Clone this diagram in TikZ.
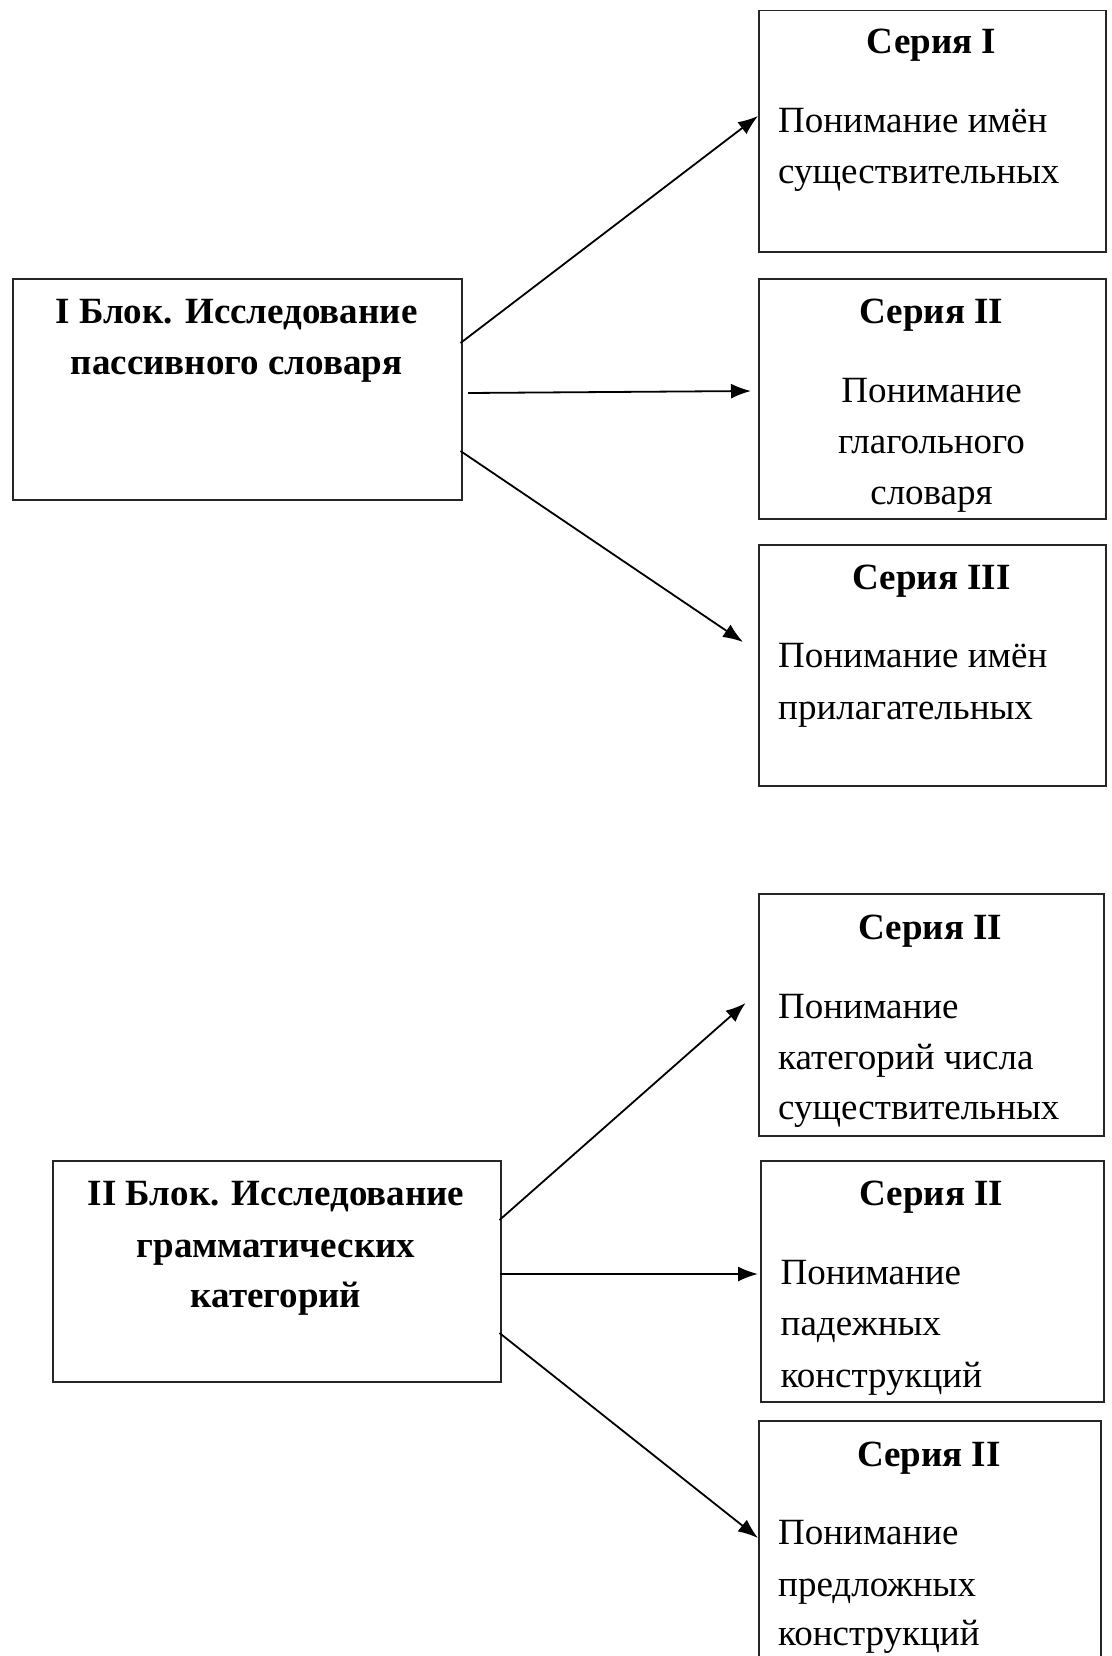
\documentclass[tikz,border=0pt]{standalone}
\usepackage{fontspec}
\setmainfont{Liberation Serif}
\usetikzlibrary{arrows.meta}
\begin{document}
\begin{tikzpicture}[x=1pt,y=-1pt,
  boxst/.style={draw=black!85, line width=1.5pt, anchor=north west, inner sep=0pt},
  ttl/.style={anchor=base, font=\fontsize{37}{45}\selectfont\bfseries, inner sep=0pt},
  bodyl/.style={anchor=base west, font=\fontsize{37}{45}\selectfont, inner sep=0pt},
  bodyc/.style={anchor=base, font=\fontsize{37}{45}\selectfont, inner sep=0pt},
  arr/.style={-{Latex[length=20pt,width=15pt]}, line width=1.8pt}]
\useasboundingbox (0,0) rectangle (1111,1656);
\fill[white] (0,0) rectangle (1111,1656);
% boxes
\node[boxst, minimum width=449pt, minimum height=221pt] (A) at (12,278) {};
\node[boxst, minimum width=347pt, minimum height=241pt] (S1) at (758,10) {};
\node[boxst, minimum width=347pt, minimum height=240pt] (S2) at (758,278) {};
\node[boxst, minimum width=347pt, minimum height=241pt] (S3) at (758,544) {};
\node[boxst, minimum width=448pt, minimum height=221pt] (B) at (52,1160) {};
\node[boxst, minimum width=345pt, minimum height=242pt] (S4) at (758,893) {};
\node[boxst, minimum width=343pt, minimum height=241pt] (S5) at (760,1160) {};
\node[boxst, minimum width=342pt, minimum height=250pt] (S6) at (758,1420) {};
% block texts
\node[ttl] (A1) at (236.5,323) {I Блок. Исследование};
\node[ttl] (A2) at (236.5,374) {пассивного словаря};
\node[ttl] (B1) at (276,1205) {II Блок. Исследование};
\node[ttl] (B2) at (276,1257) {грамматических};
\node[ttl] (B3) at (276,1307) {категорий};
% series texts
\node[ttl] (T1) at (931.5,54) {Серия I};
\node[bodyl] (P11) at (778,133) {Понимание имён};
\node[bodyl] (P12) at (778,184) {существительных};
\node[ttl] (T2) at (931.5,323) {Серия II};
\node[bodyc] (P21) at (931.5,402) {Понимание};
\node[bodyc] (P22) at (931.5,453) {глагольного};
\node[bodyc] (P23) at (931.5,504) {словаря};
\node[ttl] (T3) at (931.5,589) {Серия III};
\node[bodyl] (P31) at (778,667) {Понимание имён};
\node[bodyl] (P32) at (778,719) {прилагательных};
\node[ttl] (T4) at (930.5,939) {Серия II};
\node[bodyl] (P41) at (778,1018) {Понимание};
\node[bodyl] (P42) at (778,1069) {категорий числа};
\node[bodyl] (P43) at (778,1119) {существительных};
\node[ttl] (T5) at (931.5,1205) {Серия II};
\node[bodyl] (P51) at (780.5,1284) {Понимание};
\node[bodyl] (P52) at (780.5,1335) {падежных};
\node[bodyl] (P53) at (780.5,1387) {конструкций};
\node[ttl] (T6) at (929,1466) {Серия II};
\node[bodyl] (P61) at (778,1544) {Понимание};
\node[bodyl] (P62) at (778,1596) {предложных};
\node[bodyl] (P63) at (778,1645) {конструкций};
% arrow endpoints
\coordinate (a1s) at (460.5,343); \coordinate (a1e) at (758,116);
\coordinate (a2s) at (468,393);   \coordinate (a2e) at (751,391);
\coordinate (a3s) at (460.5,451); \coordinate (a3e) at (743,642);
\coordinate (a4s) at (499.5,1220);\coordinate (a4e) at (745.6,1003);
\coordinate (a5s) at (499.5,1274);\coordinate (a5e) at (758,1274);
\coordinate (a6s) at (499.5,1333);\coordinate (a6e) at (758,1538);
\draw[arr] (a1s) -- (a1e);
\draw[arr] (a2s) -- (a2e);
\draw[arr] (a3s) -- (a3e);
\draw[arr] (a4s) -- (a4e);
\draw[arr] (a5s) -- (a5e);
\draw[arr] (a6s) -- (a6e);
\end{tikzpicture}
\end{document}
